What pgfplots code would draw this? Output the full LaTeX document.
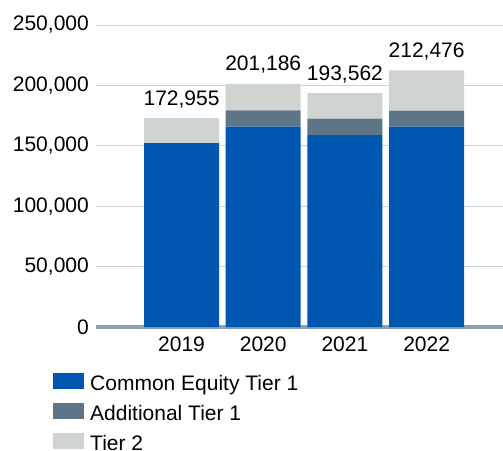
\documentclass[border=0pt]{standalone}
\usepackage{fontspec}
\setmainfont{Liberation Sans}
\usepackage{pgfplots}
\pgfplotsset{compat=1.18}

\definecolor{cetone}{HTML}{0057B0}
\definecolor{atone}{HTML}{5E7588}
\definecolor{tiertwo}{HTML}{D0D4D1}
\definecolor{axisc}{HTML}{8CA2B0}
\definecolor{gridc}{HTML}{C8D3DC}

\pgfplotsset{
    frame/.style={
        at={(0,0)}, anchor=south west,
        scale only axis,
        width=407bp, height=302bp,
        xmin=-1.047, xmax=3.935,
        ymin=0, ymax=250000,
        /pgf/number format/.cd, fixed, precision=0, 1000 sep={,}, assume math mode=true,
        /pgfplots/.cd,
    },
}

\begin{document}
\fontsize{21bp}{25bp}\selectfont
\begin{tikzpicture}
\path[use as bounding box] (-96bp,-124bp) rectangle (407bp,327bp);
\begin{axis}[
    frame,
    ybar stacked,
    bar width=75bp,
    ytick={0,50000,...,250000},
    scaled y ticks=false,
    xtick={0,1,2,3},
    xticklabels={2019,2020,2021,2022},
    major tick length=0pt,
    ymajorgrids,
    grid style={gridc, line width=0.8bp},
    axis x line*=bottom, axis y line*=left,
    y axis line style={draw=none},
    x axis line style={draw=axisc, line width=3.5bp, -},
    tick label style={font=\fontsize{21bp}{25bp}\selectfont, text=black},
    xticklabel style={yshift=-3bp},
    legend style={draw=none, fill=none, at={(0,0)}, anchor=north west,
        xshift=-43bp, yshift=-45.5bp, inner sep=0pt, row sep=8bp,
        font=\fontsize{21bp}{25bp}\selectfont,
        nodes={inner ysep=0pt, inner xsep=0pt, text height=16bp, text depth=4bp},
        /tikz/every odd column/.append style={column sep=6bp}},
    legend cell align=left,
    legend image code/.code={\fill[#1] (0bp,-4bp) rectangle (31bp,12bp);},
]
\addplot[fill=cetone, draw=none] coordinates {(0,152300) (1,165800) (2,158900) (3,165800)};
\addplot[fill=atone, draw=none] coordinates {(0,0) (1,13600) (2,13500) (3,13300)};
\addplot[fill=tiertwo, draw=none] coordinates {(0,20655) (1,21786) (2,21162) (3,33376)};
\legend{Common Equity Tier 1, Additional Tier 1, Tier 2}
\end{axis}
% totals above the bars
\begin{axis}[frame, hide axis, clip=false]
\addplot[draw=none, mark=none, point meta=explicit,
    nodes near coords,
    nodes near coords style={anchor=base, yshift=13bp, text=black,
        font=\fontsize{21bp}{25bp}\selectfont}]
    coordinates {(0,172955) [172955] (1,201186) [201186] (2,193562) [193562] (3,212476) [212476]};
\end{axis}
\end{tikzpicture}
\end{document}
